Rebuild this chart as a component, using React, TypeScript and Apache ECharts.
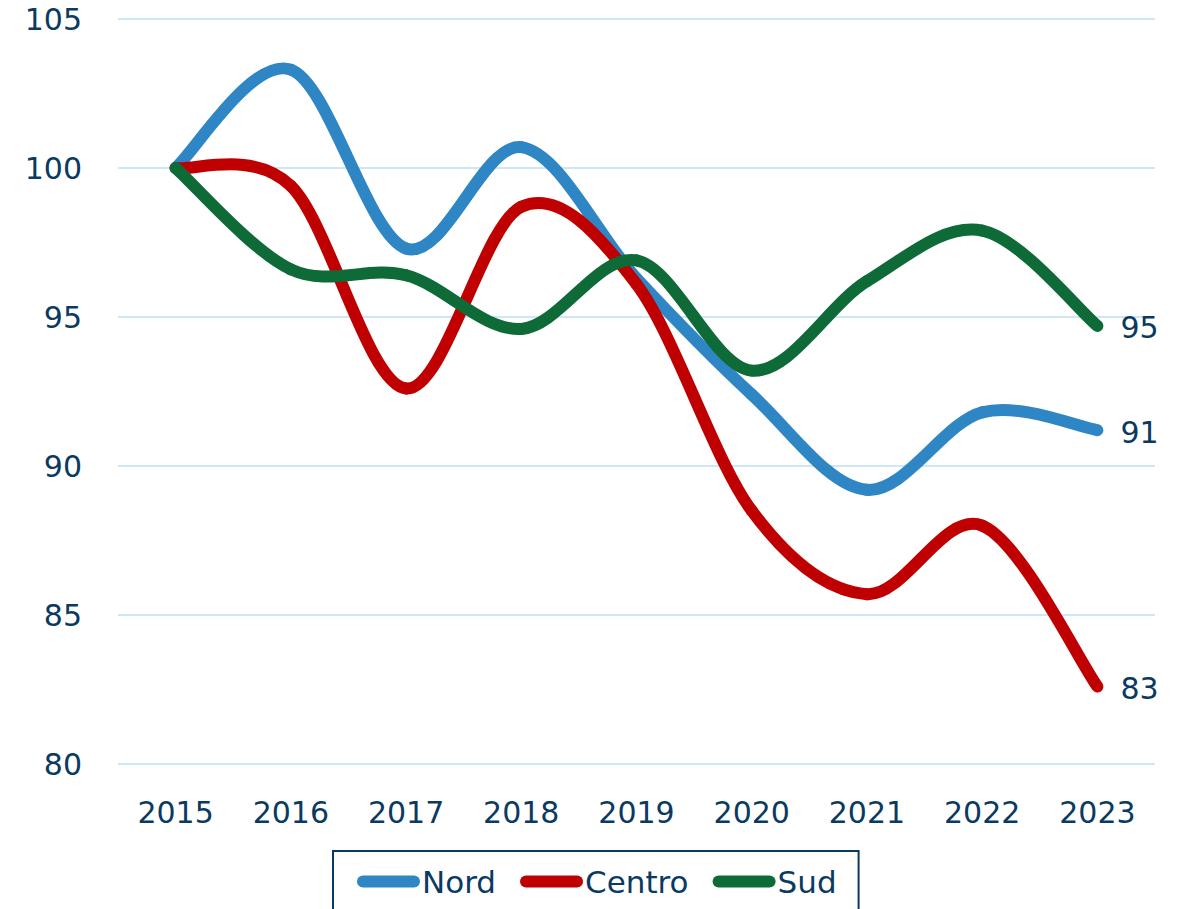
import React, { useEffect, useRef } from "react";
import * as echarts from "echarts";

const years = ["2015", "2016", "2017", "2018", "2019", "2020", "2021", "2022", "2023"];
const nord = [100, 103.3, 97.3, 100.7, 96.3, 92.4, 89.2, 91.8, 91.2];
const centro = [100, 99.4, 92.6, 98.7, 96.1, 88.5, 85.7, 88.0, 82.6];
const sud = [100, 96.6, 96.4, 94.6, 96.9, 93.2, 96.2, 97.9, 94.7];
const seriesNames = ["Nord", "Centro", "Sud"];
const seriesColors = ["#2E86C4", "#C00000", "#0E6B38"];
const yTicks = { min: 80, max: 105, interval: 5 };

const NAVY = "#0B3A61";
const FONT = "DejaVu Sans";

export default function App() {
  const ref = useRef<HTMLDivElement>(null);
  useEffect(() => {
    if (!ref.current) return;
    const chart = echarts.init(ref.current, null, { renderer: "svg" });
    const icon = "path://M6,0 H57 A6,6 0 0 1 57,12 H6 A6,6 0 0 1 6,0 Z";
    const all = [nord, centro, sud];
    const mk = (si: number) => {
      const vals = all[si];
      const color = seriesColors[si];
      return {
        name: seriesNames[si],
        type: "custom",
        coordinateSystem: "cartesian2d",
        encode: { x: 0, y: 1 },
        data: vals.map((v, k) => [k, v]),
        itemStyle: { color },
        renderItem: (params: any, api: any) => {
          const i = params.dataIndex;
          const n = vals.length;
          const pts = vals.map((v, k) => api.coord([k, v]));
          const children: any[] = [];
          if (i > 0) {
            const p0 = pts[Math.max(i - 2, 0)];
            const p1 = pts[i - 1];
            const p2 = pts[i];
            const p3 = pts[Math.min(i + 1, n - 1)];
            const c1 = [p1[0] + (p2[0] - p0[0]) / 6, p1[1] + (p2[1] - p0[1]) / 6];
            const c2 = [p2[0] - (p3[0] - p1[0]) / 6, p2[1] - (p3[1] - p1[1]) / 6];
            children.push({
              type: "path",
              shape: {
                pathData: `M${p1[0]},${p1[1]} C${c1[0]},${c1[1]} ${c2[0]},${c2[1]} ${p2[0]},${p2[1]}`,
              },
              style: { stroke: color, lineWidth: 12, fill: "none", lineCap: "round", lineJoin: "round" },
            });
          }
          if (i === n - 1) {
            children.push({
              type: "text",
              x: pts[i][0] + 23,
              y: pts[i][1] + 2,
              style: {
                text: String(Math.round(vals[i])),
                fill: NAVY,
                fontSize: 30,
                fontFamily: FONT,
                align: "left",
                verticalAlign: "middle",
              },
            });
          }
          return { type: "group", children };
        },
      };
    };
    chart.setOption({
      animation: false,
      backgroundColor: "#ffffff",
      textStyle: { fontFamily: FONT },
      grid: { left: 118, right: 26, top: 19, bottom: 145, containLabel: false },
      xAxis: {
        type: "category",
        data: years,
        boundaryGap: true,
        axisLine: { show: false },
        axisTick: { show: false },
        axisLabel: { color: NAVY, fontSize: 30, fontFamily: FONT, margin: 33 },
      },
      yAxis: {
        type: "value",
        min: yTicks.min,
        max: yTicks.max,
        interval: yTicks.interval,
        axisLine: { show: false },
        axisTick: { show: false },
        axisLabel: { color: NAVY, fontSize: 30, fontFamily: FONT, margin: 36 },
        splitLine: { lineStyle: { color: "#CDE6FA", width: 2 } },
      },
      legend: {
        left: 333,
        top: 851,
        orient: "horizontal",
        padding: [15, 22, 16, 24],
        borderColor: NAVY,
        borderWidth: 2,
        itemGap: 24,
        itemWidth: 63,
        itemHeight: 12,
        icon,
        textStyle: { color: NAVY, fontSize: 31, fontFamily: FONT, padding: [0, 0, 0, -3] },
        data: seriesNames,
      },
      series: [mk(0), mk(1), mk(2)],
    });
    return () => chart.dispose();
  }, []);
  return <div ref={ref} style={{ width: 1181, height: 909, position: "absolute", left: 0, top: 0 }} />;
}
